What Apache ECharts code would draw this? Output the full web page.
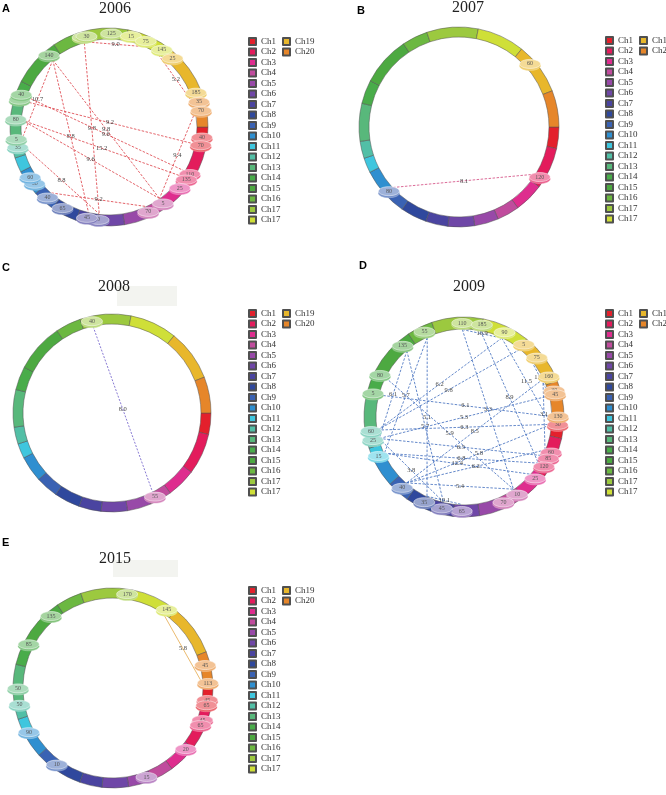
<!DOCTYPE html>
<html><head><meta charset="utf-8">
<script src="https://cdn.jsdelivr.net/npm/echarts@6/dist/echarts.min.js"></script>
<style>html,body{margin:0;padding:0;background:#fff}#c{width:666px;height:795px}</style>
</head><body><div id="c"></div>
<script>
// ---------------- data ----------------
const chromNames = ['Ch1','Ch2','Ch3','Ch4','Ch5','Ch6','Ch7','Ch8','Ch9','Ch10','Ch11','Ch12','Ch13','Ch14','Ch15','Ch16','Ch17','Ch18','Ch19','Ch20'];
const legendLabels = ['Ch1','Ch2','Ch3','Ch4','Ch5','Ch6','Ch7','Ch8','Ch9','Ch10','Ch11','Ch12','Ch13','Ch14','Ch15','Ch16','Ch17','Ch17','Ch19','Ch20'];
const chromLengths = [78,151,107,81,87,96,81,95,82,95,54,62,137,86,179,93,186,172,187,132];
const years = ['2006','2007','2008','2009','2015'];
const panelLetters = ['A','B','C','D','E'];

const markers2006 = [['Ch1',40],['Ch1',70],['Ch2',110],['Ch2',135],['Ch3',25],['Ch4',5],['Ch4',70],['Ch7',0],['Ch7',45],['Ch8',65],['Ch9',40],['Ch10',30],['Ch10',60],['Ch12',35],['Ch13',5],['Ch13',80],['Ch14',20],['Ch14',40],['Ch15',140],['Ch17',15],['Ch17',30],['Ch17',125],['Ch18',15],['Ch18',75],['Ch18',145],['Ch19',25],['Ch19',185],['Ch20',35],['Ch20',70]];
const links2006 = [['Ch17',30,'Ch18',75,'9.0'],['Ch18',145,'Ch20',35,'5.2'],['Ch20',70,'Ch4',5,'9.4'],['Ch15',140,'Ch13',5,'10.7'],['Ch17',15,'Ch7',0,'9.8'],['Ch15',140,'Ch4',5,'9.8'],['Ch14',40,'Ch2',110,'9.6'],['Ch15',140,'Ch7',45,'8.8'],['Ch13',80,'Ch2',135,'15.2'],['Ch13',80,'Ch4',5,'9.6'],['Ch12',35,'Ch7',0,'8.8'],['Ch9',40,'Ch4',70,'9.2'],['Ch14',20,'Ch1',70,'9.2']];

const markers2007 = [['Ch9',80],['Ch2',120],['Ch19',60]];
const links2007 = [['Ch9',80,'Ch2',120,'8.1']];

const markers2008 = [['Ch17',40],['Ch4',55]];
const links2008 = [['Ch17',40,'Ch4',55,'8.0']];

const markers2009 = [['Ch1',30],['Ch2',60],['Ch2',85],['Ch2',120],['Ch3',25],['Ch4',10],['Ch4',70],['Ch6',65],['Ch7',45],['Ch8',35],['Ch9',40],['Ch11',15],['Ch12',25],['Ch12',60],['Ch14',5],['Ch14',80],['Ch15',135],['Ch16',55],['Ch17',110],['Ch17',185],['Ch18',90],['Ch19',5],['Ch19',75],['Ch19',160],['Ch20',30],['Ch20',45],['Ch20',130]];
const links2009 = [['Ch17',110,'Ch4',10,'3.3'],['Ch17',110,'Ch18',90,'10.9'],['Ch19',5,'Ch12',60,'9.8'],['Ch18',90,'Ch12',60,'6.2'],['Ch18',90,'Ch1',30,'11.5'],['Ch17',185,'Ch2',120,'8.9'],['Ch19',75,'Ch20',30,'11.7'],['Ch15',135,'Ch12',25,'6.1'],['Ch16',55,'Ch11',15,'5.7'],['Ch15',135,'Ch7',45,'5.7'],['Ch16',55,'Ch8',35,'5.1'],['Ch12',60,'Ch1',30,'6.3'],['Ch12',25,'Ch2',85,'6.5'],['Ch11',15,'Ch2',120,'6.8'],['Ch11',15,'Ch3',25,'12.4'],['Ch9',40,'Ch1',30,'5.8'],['Ch9',40,'Ch2',60,'6.2'],['Ch9',40,'Ch4',10,'5.4'],['Ch8',35,'Ch6',65,'10.1'],['Ch12',25,'Ch7',45,'3.8'],['Ch14',5,'Ch20',130,'6.1'],['Ch14',80,'Ch4',10,'5.9'],['Ch19',160,'Ch9',40,'8.5'],['Ch19',160,'Ch2',60,'3.1'],['Ch20',45,'Ch12',25,'5.3']];

const markers2015 = [['Ch17',170],['Ch18',145],['Ch20',45],['Ch20',113],['Ch1',45],['Ch1',65],['Ch2',45],['Ch2',65],['Ch3',20],['Ch5',15],['Ch9',10],['Ch10',90],['Ch12',50],['Ch13',50],['Ch14',85],['Ch15',135]];
const links2015 = [['Ch18',145,'Ch20',113,'5.8']];

const allMarkers = [markers2006, markers2007, markers2008, markers2009, markers2015];
const allLinks = [links2006, links2007, links2008, links2009, links2015];

// ---------------- style / layout ----------------
const chromColors = ['#e3202c','#e31c5c','#de2d8e','#c04c9d','#9849a8','#6f47a7','#4a44a0','#2f489d','#3a62b3','#2f8fd0','#3fc6de','#52bfa6','#58b87b','#49ac4a','#4da941','#6cb841','#9cc93f','#cfdf38','#e8b72c','#e6862a'];
const layout = [
  {c:[109,127], R:99,  w:11, legend:[248,37],  title:[115,8.5], letter:[2,3],   link:'#dc3c44', dash:[2.5,1.5]},
  {c:[459,127], R:100, w:10, legend:[605,36],  title:[468,8],   letter:[357,5], link:'#d2467e', dash:[2.5,1.5]},
  {c:[112,413], R:99,  w:10, legend:[248,309], title:[114,287], letter:[2,262], link:'#6a58c8', dash:[2,1.5], bg:[117,286,60,20]},
  {c:[464,417], R:100, w:12, legend:[605,309], title:[469,287], letter:[359,260],link:'#3d6bbd', dash:[2.5,1.5]},
  {c:[113,688], R:100, w:10, legend:[248,586], title:[115,559], letter:[2,537], link:'#e5a84a', dash:null, bg:[113,560,65,17]}
];
const serif = '"Liberation Serif","Times New Roman",serif';

function mix(hex, t){
  const n = parseInt(hex.slice(1),16);
  let r=(n>>16)&255,g=(n>>8)&255,b=n&255;
  r=Math.round(r+(255-r)*t); g=Math.round(g+(255-g)*t); b=Math.round(b+(255-b)*t);
  return 'rgb('+r+','+g+','+b+')';
}

const offsets = [];
chromLengths.reduce((acc,l,i)=>{offsets[i]=acc; return acc+l;},0);
const TOTAL = chromLengths.reduce((a,b)=>a+b,0);
const gpos = (ch,pos)=> offsets[chromNames.indexOf(ch)] + pos;

const polar=[], angleAxis=[], radiusAxis=[], series=[], legend=[], graphic=[];
layout.forEach((p,i)=>{
  polar.push({center:p.c, radius:p.R});
  angleAxis.push({polarIndex:i, type:'value', min:0, max:TOTAL, startAngle:0, clockwise:true, show:false});
  radiusAxis.push({polarIndex:i, type:'value', min:0, max:p.R, show:false});

  series.push({
    type:'pie', center:p.c, radius:[p.R-p.w, p.R], startAngle:0, clockwise:true,
    silent:true, animation:false, label:{show:false}, labelLine:{show:false}, z:1,
    itemStyle:{borderColor:'#505050', borderWidth:0.5},
    data: chromNames.map((n,k)=>({name:n, value:chromLengths[k], itemStyle:{color:chromColors[k]}}))
  });

  const links = allLinks[i];
  const rLink = p.R - p.w - 0.5;
  series.push({
    type:'custom', coordinateSystem:'polar', polarIndex:i, animation:false, silent:true, z:3,
    data: links.map(l=>[rLink, gpos(l[0],l[1]), gpos(l[2],l[3])]),
    renderItem:(params, api)=>{
      const l = links[params.dataIndex];
      const a = api.coord([api.value(0), api.value(1)]);
      const b = api.coord([api.value(0), api.value(2)]);
      const st = {stroke:p.link, lineWidth:0.8};
      if (p.dash) st.lineDash = p.dash;
      return {type:'group', children:[
        {type:'line', shape:{x1:a[0],y1:a[1],x2:b[0],y2:b[1]}, style:st},
        {type:'text', x:(a[0]+b[0])/2, y:(a[1]+b[1])/2,
          style:{text:l[4], fontSize:6.5, fontFamily:serif, fill:'#444', align:'center', verticalAlign:'middle'}}
      ]};
    }
  });

  const marks = allMarkers[i];
  const rMid = p.R - p.w/2;
  series.push({
    type:'custom', coordinateSystem:'polar', polarIndex:i, animation:false, silent:true, z:4,
    data: marks.map(m=>[rMid, gpos(m[0],m[1])]),
    renderItem:(params, api)=>{
      const m = marks[params.dataIndex];
      const col = chromColors[chromNames.indexOf(m[0])];
      const q = api.coord([api.value(0), api.value(1)]);
      return {type:'group', children:[
        {type:'ellipse', shape:{cx:q[0], cy:q[1]+2, rx:10.5, ry:4.5}, style:{fill:mix(col,0.3), stroke:mix(col,0.55), lineWidth:0.5}},
        {type:'ellipse', shape:{cx:q[0], cy:q[1], rx:10.5, ry:4.5}, style:{fill:mix(col,0.5), stroke:'rgba(255,255,255,0.8)', lineWidth:0.6}},
        {type:'text', x:q[0], y:q[1], style:{text:String(m[1]), fontSize:6, fontFamily:serif, fill:'#555', align:'center', verticalAlign:'middle'}}
      ]};
    }
  });

  legend.push({
    data: chromNames, orient:'vertical', left:p.legend[0], top:p.legend[1], height:192,
    padding:0, itemWidth:7, itemHeight:7, itemGap:1.5, icon:'rect', selectedMode:false,
    formatter: name => legendLabels[chromNames.indexOf(name)],
    textStyle:{fontFamily:serif, fontSize:9, color:'#333', lineHeight:9, padding:0}
  });

  if (p.bg) graphic.push({type:'rect', z:0, shape:{x:p.bg[0], y:p.bg[1], width:p.bg[2], height:p.bg[3]}, style:{fill:'#f3f4f0'}});
  graphic.push({type:'text', z:5, x:p.title[0], y:p.title[1], style:{text:years[i], fontSize:16, fontFamily:serif, fill:'#222', align:'center', verticalAlign:'middle'}});
  graphic.push({type:'text', z:5, x:p.letter[0], y:p.letter[1], style:{text:panelLetters[i], fontSize:11, fontWeight:'bold', fontFamily:'"Liberation Sans",Arial,sans-serif', fill:'#000', align:'left', verticalAlign:'top'}});
});

const chart = echarts.init(document.getElementById('c'), null, {renderer:'canvas'});
chart.setOption({
  animation:false, backgroundColor:'#fff',
  polar, angleAxis, radiusAxis, legend, series, graphic
});
</script></body></html>
